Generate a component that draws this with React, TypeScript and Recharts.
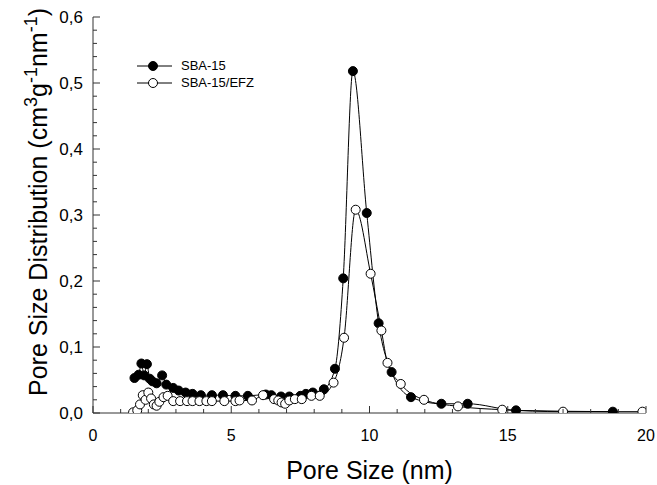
import React from "react";
import { LineChart, Line, XAxis, YAxis, Legend } from "recharts";

// ---- data ----
const sbaX = [1.5, 1.65, 1.75, 1.85, 1.95, 2.05, 2.15, 2.3, 2.5, 2.65, 2.9, 3.1, 3.35, 3.6, 3.9, 4.3, 4.7, 5.15, 5.6, 6.25, 6.45, 6.8, 7.1, 7.5, 7.7, 7.95, 8.35, 8.75, 9.05, 9.4, 9.9, 10.33, 10.8, 11.5, 12.6, 13.55, 15.3, 18.8];
const sbaY = [0.053, 0.058, 0.075, 0.057, 0.074, 0.052, 0.048, 0.045, 0.057, 0.043, 0.038, 0.034, 0.031, 0.029, 0.027, 0.027, 0.027, 0.026, 0.026, 0.028, 0.027, 0.025, 0.025, 0.026, 0.029, 0.031, 0.036, 0.067, 0.204, 0.518, 0.303, 0.136, 0.062, 0.024, 0.014, 0.014, 0.004, 0.002];

const efzX = [1.45, 1.6, 1.7, 1.8, 1.9, 2.0, 2.1, 2.2, 2.3, 2.4, 2.55, 2.7, 2.9, 3.15, 3.4, 3.6, 3.85, 4.1, 4.3, 4.75, 5.15, 5.3, 5.75, 6.15, 6.55, 6.7, 6.82, 6.95, 7.1, 7.3, 7.55, 7.9, 8.2, 8.7, 9.08, 9.5, 10.04, 10.43, 10.65, 11.13, 11.97, 13.2, 14.8, 17.0, 19.87];
const efzY = [0.001, 0.004, 0.013, 0.027, 0.02, 0.031, 0.022, 0.013, 0.011, 0.017, 0.024, 0.026, 0.018, 0.018, 0.018, 0.018, 0.018, 0.018, 0.018, 0.018, 0.018, 0.019, 0.019, 0.027, 0.021, 0.019, 0.016, 0.014, 0.019, 0.021, 0.021, 0.026, 0.026, 0.046, 0.114, 0.308, 0.211, 0.125, 0.076, 0.044, 0.02, 0.01, 0.005, 0.002, 0.002];

const seriesNames = ["SBA-15", "SBA-15/EFZ"];
const xTicks = [0, 1, 2, 3, 4, 5, 6, 7, 8, 9, 10, 11, 12, 13, 14, 15, 16, 17, 18, 19, 20];
const xMajor = [0, 5, 10, 15, 20];
const yTicks = [0, 0.02, 0.04, 0.06, 0.08, 0.1, 0.12, 0.14, 0.16, 0.18, 0.2, 0.22, 0.24, 0.26, 0.28, 0.3, 0.32, 0.34, 0.36, 0.38, 0.4, 0.42, 0.44, 0.46, 0.48, 0.5, 0.52, 0.54, 0.56, 0.58, 0.6];
const yMajor = [0, 0.1, 0.2, 0.3, 0.4, 0.5, 0.6];
const xTitle = "Pore Size (nm)";

const sba = sbaX.map((x, i) => ({ x, y: sbaY[i] }));
const efz = efzX.map((x, i) => ({ x, y: efzY[i] }));

// ---- layout ----
const W = 657;
const H = 485;
const PLOT_LEFT = 93;
const PLOT_RIGHT = 646;
const PLOT_TOP = 17;
const PLOT_BOTTOM = 413;
const FONT = "'Liberation Sans', Arial, sans-serif";

const isMajor = (v: number, list: number[]) => list.some((m) => Math.abs(m - v) < 1e-6);
const fmt = (v: number) => v.toFixed(1).replace(".", ",");

const XTick = (props: any) => {
  const { x, payload } = props;
  const v = payload.value;
  const major = isMajor(v, xMajor);
  const len = major ? 7 : 4;
  return (
    <g>
      <line x1={x} x2={x} y1={PLOT_BOTTOM} y2={PLOT_BOTTOM - len} stroke="#333" strokeWidth={1} />
      {major && (
        <text x={x} y={PLOT_BOTTOM + 28} textAnchor="middle" fontFamily={FONT} fontSize={16} fill="#000">
          {v}
        </text>
      )}
    </g>
  );
};

const YTick = (props: any) => {
  const { y, payload } = props;
  const v = payload.value;
  const major = isMajor(v, yMajor);
  const len = major ? 7 : 4;
  return (
    <g>
      <line x1={PLOT_LEFT} x2={PLOT_LEFT + len} y1={y} y2={y} stroke="#333" strokeWidth={1} />
      {major && (
        <text x={PLOT_LEFT - 10} y={y} dy="0.36em" textAnchor="end" fontFamily={FONT} fontSize={17} fill="#000">
          {fmt(v)}
        </text>
      )}
    </g>
  );
};

const YTitle = () => {
  const cx = 47;
  const cy = 202;
  return (
    <text
      x={cx}
      y={cy}
      transform={`rotate(-90, ${cx}, ${cy})`}
      textAnchor="middle"
      fontFamily={FONT}
      fontSize={25}
      fill="#000"
    >
      <tspan>Pore Size Distribution (cm</tspan>
      <tspan dy={-10} fontSize={18}>3</tspan>
      <tspan dy={10}>g</tspan>
      <tspan dy={-10} fontSize={18}>-1</tspan>
      <tspan dy={10}>nm</tspan>
      <tspan dy={-10} fontSize={18}>-1</tspan>
      <tspan dy={10}>)</tspan>
    </text>
  );
};

const XTitle = () => (
  <text x={(PLOT_LEFT + PLOT_RIGHT) / 2} y={479} textAnchor="middle" fontFamily={FONT} fontSize={25} fill="#000">
    {xTitle}
  </text>
);

const LegendContent = () => {
  const rows = [
    { name: seriesNames[0], fill: "#000" },
    { name: seriesNames[1], fill: "#fff" },
  ];
  return (
    <div style={{ fontFamily: FONT, fontSize: 13, color: "#000" }}>
      {rows.map((r) => (
        <div key={r.name} style={{ display: "flex", alignItems: "center", height: 17 }}>
          <svg width={44} height={14} style={{ display: "block" }}>
            <line x1={0} x2={35} y1={7} y2={7} stroke="#000" strokeWidth={1} />
            <circle cx={16} cy={7} r={4.5} fill={r.fill} stroke="#000" strokeWidth={1} />
          </svg>
          <span>{r.name}</span>
        </div>
      ))}
    </div>
  );
};

export default function App() {
  return (
    <div style={{ position: "fixed", left: 0, top: 0, width: W, height: H, background: "#fff" }}>
      <LineChart
        width={W}
        height={H}
        margin={{ top: PLOT_TOP, right: W - PLOT_RIGHT, bottom: 0, left: 0 }}
      >
        <XAxis
          xAxisId={0}
          dataKey="x"
          type="number"
          domain={[0, 20]}
          ticks={xTicks}
          interval={0}
          allowDataOverflow
          height={H - PLOT_BOTTOM}
          axisLine={{ stroke: "#333", strokeWidth: 1 }}
          tickLine={false}
          tick={<XTick />}
          label={{ content: () => <XTitle /> }}
        />
        <XAxis
          xAxisId="top"
          orientation="top"
          type="number"
          domain={[0, 20]}
          height={0}
          tick={false}
          tickLine={false}
          axisLine={{ stroke: "#333", strokeWidth: 1 }}
        />
        <YAxis
          yAxisId={0}
          type="number"
          domain={[0, 0.6]}
          ticks={yTicks}
          interval={0}
          allowDataOverflow
          width={PLOT_LEFT}
          axisLine={{ stroke: "#333", strokeWidth: 1 }}
          tickLine={false}
          tick={<YTick />}
          label={{ content: () => <YTitle /> }}
        />
        <YAxis
          yAxisId="right"
          orientation="right"
          type="number"
          domain={[0, 0.6]}
          width={0}
          tick={false}
          tickLine={false}
          axisLine={{ stroke: "#333", strokeWidth: 1 }}
        />
        <Legend
          layout="vertical"
          align="center"
          verticalAlign="middle"
          wrapperStyle={{ left: 137, top: 57, width: 200 }}
          content={<LegendContent />}
        />
        <Line
          name={seriesNames[0]}
          data={sba}
          dataKey="y"
          type="monotone"
          stroke="#000"
          strokeWidth={1}
          dot={{ r: 4.5, fill: "#000", stroke: "#000", strokeWidth: 1 }}
          activeDot={false}
          isAnimationActive={false}
        />
        <Line
          name={seriesNames[1]}
          data={efz}
          dataKey="y"
          type="monotone"
          stroke="#000"
          strokeWidth={1}
          dot={{ r: 4.5, fill: "#fff", stroke: "#000", strokeWidth: 1 }}
          activeDot={false}
          isAnimationActive={false}
        />
      </LineChart>
    </div>
  );
}
